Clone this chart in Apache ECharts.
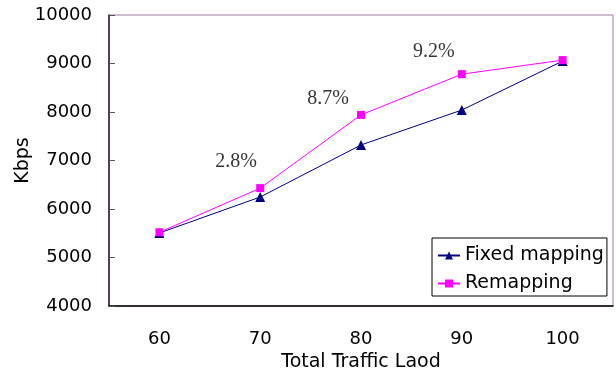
<!DOCTYPE html>
<html><head><meta charset="utf-8">
<script src="https://cdn.jsdelivr.net/npm/echarts@6/dist/echarts.min.js"></script>
<style>html,body{margin:0;padding:0;background:#fff}#c{width:616px;height:377px}</style>
</head><body><div id="c"></div>
<script>
var categories = ['60', '70', '80', '90', '100'];
var fixedMapping = [5505, 6247, 7320, 8040, 9050];
var remapping = [5520, 6430, 7940, 8780, 9070];
var yTicks = [4000, 5000, 6000, 7000, 8000, 9000, 10000];
var annotations = [
  { text: '2.8%', cat: '70', value: 6970, dx: -24 },
  { text: '8.7%', cat: '80', value: 8270, dx: -33 },
  { text: '9.2%', cat: '90', value: 9240, dx: -28 }
];

var chart = echarts.init(document.getElementById('c'), null, { renderer: 'canvas' });
var sans = 'DejaVu Sans';
chart.setOption({
  animation: false,
  backgroundColor: '#fff',
  grid: { left: 109, top: 15, right: 3, bottom: 71, show: true, borderColor: '#a878a8', borderWidth: 1,
    backgroundColor: 'transparent', containLabel: false, outerBoundsMode: 'none' },
  xAxis: {
    type: 'category', data: categories, boundaryGap: true,
    name: 'Total Traffic Laod', nameLocation: 'middle', nameGap: 45,
    nameTextStyle: { fontFamily: sans, fontSize: 19, color: '#000' },
    axisLine: { lineStyle: { color: '#000', width: 1.5 } },
    axisTick: { inside: true, length: 6, lineStyle: { color: '#555' } },
    axisLabel: { fontFamily: sans, fontSize: 18, color: '#000', margin: 24 },
    splitLine: { show: false }
  },
  yAxis: {
    type: 'value', min: yTicks[0], max: yTicks[yTicks.length - 1], interval: 1000,
    name: 'Kbps', nameLocation: 'middle', nameGap: 76, nameMoveOverlap: false,
    nameTextStyle: { fontFamily: sans, fontSize: 19, color: '#000' },
    axisLine: { show: true, lineStyle: { color: '#331133', width: 1.5 } },
    axisTick: { show: true, inside: true, length: 6, lineStyle: { color: '#555' } },
    axisLabel: { fontFamily: sans, fontSize: 18, color: '#000', margin: 17, formatter: function (v) { return String(v); } },
    splitLine: { show: false }
  },
  legend: {
    orient: 'vertical', left: 432, top: 238,
    backgroundColor: '#fff', borderColor: '#000', borderWidth: 1,
    padding: [8, 3, 3, 5], itemWidth: 22, itemHeight: 10, itemGap: 9,
    textStyle: { fontFamily: sans, fontSize: 19, color: '#000' },
    data: ['Fixed mapping', 'Remapping']
  },
  series: [
    { name: 'Fixed mapping', type: 'line', data: fixedMapping, symbol: 'triangle', symbolSize: 10,
      lineStyle: { color: '#000080', width: 1 }, itemStyle: { color: '#000080' }, z: 3 },
    { name: 'Remapping', type: 'line', data: remapping, symbol: 'rect', symbolSize: 8,
      lineStyle: { color: '#ff00ff', width: 1 }, itemStyle: { color: '#ff00ff' }, z: 4 },
    { name: 'notes', type: 'scatter', symbol: 'circle', symbolSize: 1, silent: true,
      itemStyle: { color: 'rgba(0,0,0,0)' },
      data: annotations.map(function (a) { return { value: [a.cat, a.value], label: { offset: [a.dx, 0], formatter: a.text } }; }),
      label: { show: true, position: 'inside', fontFamily: 'Liberation Serif', fontSize: 20, color: '#000' } }
  ]
});
</script></body></html>
